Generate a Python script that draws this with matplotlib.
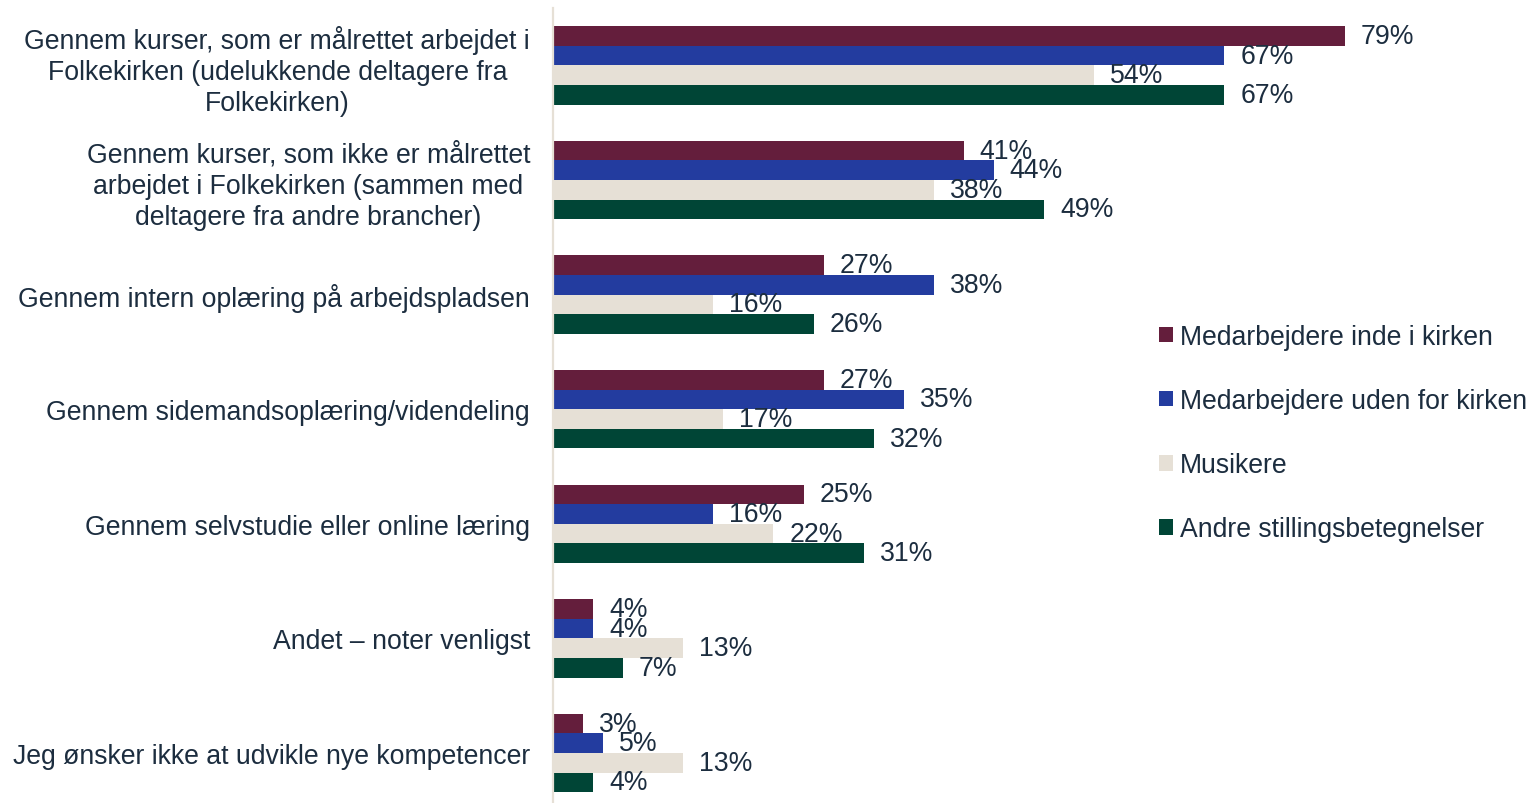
import matplotlib
matplotlib.use("Agg")
import matplotlib.pyplot as plt
import numpy as np

categories = [
    "Gennem kurser, som er målrettet arbejdet i\nFolkekirken (udelukkende deltagere fra\nFolkekirken)",
    "Gennem kurser, som ikke er målrettet\narbejdet i Folkekirken (sammen med\ndeltagere fra andre brancher)",
    "Gennem intern oplæring på arbejdspladsen",
    "Gennem sidemandsoplæring/videndeling",
    "Gennem selvstudie eller online læring",
    "Andet – noter venligst",
    "Jeg ønsker ikke at udvikle nye kompetencer",
]
series_names = [
    "Medarbejdere inde i kirken",
    "Medarbejdere uden for kirken",
    "Musikere",
    "Andre stillingsbetegnelser",
]
inde = [79, 41, 27, 27, 25, 4, 3]
uden = [67, 44, 38, 35, 16, 4, 5]
musikere = [54, 38, 16, 17, 22, 13, 13]
andre = [67, 49, 26, 32, 31, 7, 4]
series_values = [inde, uden, musikere, andre]
colors = ["#641E3C", "#233C9F", "#E6E0D6", "#004536"]
text_color = "#1C2D3F"

plt.rcParams["font.family"] = ["Liberation Sans", "DejaVu Sans"]
FS = 19.2

W, H = 1529, 804
fig = plt.figure(figsize=(W / 100, H / 100), dpi=100)
ax_left_px, ax_right_px = 553, 1529
ax_top_px, ax_bot_px = 9, 804
ax = fig.add_axes([ax_left_px / W, 1 - ax_bot_px / H,
                   (ax_right_px - ax_left_px) / W, (ax_bot_px - ax_top_px) / H])

px_per_unit = 10.02
ax.set_xlim(0, (ax_right_px - ax_left_px) / px_per_unit)
g0, step = 66.4, 114.6
ax.set_ylim((ax_bot_px - g0) / step, (ax_top_px - g0) / step)

bh = 19.6 / step
y = np.arange(len(categories))
handles = []
for k, (vals, c, name) in enumerate(zip(series_values, colors, series_names)):
    pos = y + (k - 1.5) * bh
    b = ax.barh(pos, vals, height=bh, color=c, label=name)
    handles.append(b)
    for yy, v in zip(pos, vals):
        ax.annotate(f"{v}%", (v, yy), xytext=(11.5, 0), textcoords="offset points",
                    ha="left", va="center", fontsize=FS, color=text_color,
                    annotation_clip=False)

for s in ["top", "right", "bottom"]:
    ax.spines[s].set_visible(False)
ax.spines["left"].set_color("#E6E0D6")
ax.spines["left"].set_linewidth(1.6)
ax.set_xticks([])
ax.set_yticks(y)
ax.set_yticklabels(categories, fontsize=FS, color=text_color)
for lbl in ax.get_yticklabels():
    lbl.set_multialignment("center")
    lbl.set_linespacing(1.25)
ax.tick_params(axis="y", length=0, pad=16.5)

leg = fig.legend(handles=handles, labels=series_names, loc="upper left",
                 bbox_to_anchor=(1159 / W, 1 - 325 / H), frameon=False,
                 fontsize=FS, handlelength=0.52, handleheight=0.52,
                 handletextpad=0.25, labelspacing=1.43, borderpad=0, borderaxespad=0)
for t in leg.get_texts():
    t.set_color(text_color)

fig.savefig("out.png", dpi=100)
